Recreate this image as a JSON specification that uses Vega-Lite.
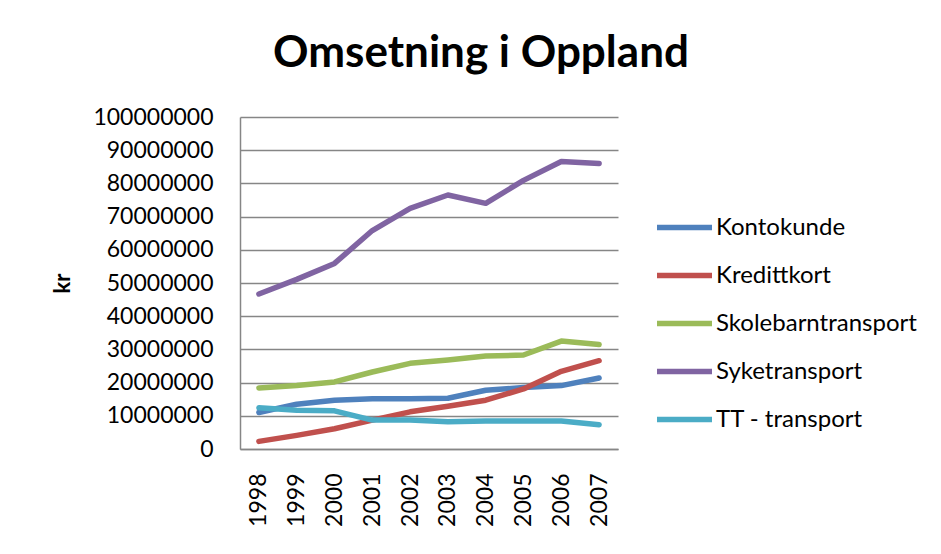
{
  "$schema": "https://vega.github.io/schema/vega-lite/v6.json",
  "autosize": "none",
  "width": 378,
  "height": 332,
  "padding": {"left": 240, "top": 117, "right": 323, "bottom": 105},
  "background": "white",
  "title": {
    "text": "Omsetning i Oppland",
    "font": "Lato",
    "fontSize": 44,
    "fontWeight": "bold",
    "color": "black",
    "anchor": "middle",
    "dx": 52,
    "baseline": "alphabetic",
    "offset": -5
  },
  "config": {
    "view": {"stroke": null},
    "font": "Lato"
  },
  "data": {
    "values": [
      {"year": "1998", "series": "Kontokunde", "value": 11000000},
      {"year": "1999", "series": "Kontokunde", "value": 13500000},
      {"year": "2000", "series": "Kontokunde", "value": 14700000},
      {"year": "2001", "series": "Kontokunde", "value": 15100000},
      {"year": "2002", "series": "Kontokunde", "value": 15100000},
      {"year": "2003", "series": "Kontokunde", "value": 15300000},
      {"year": "2004", "series": "Kontokunde", "value": 17700000},
      {"year": "2005", "series": "Kontokunde", "value": 18500000},
      {"year": "2006", "series": "Kontokunde", "value": 19100000},
      {"year": "2007", "series": "Kontokunde", "value": 21400000},
      {"year": "1998", "series": "Kredittkort", "value": 2300000},
      {"year": "1999", "series": "Kredittkort", "value": 4100000},
      {"year": "2000", "series": "Kredittkort", "value": 6100000},
      {"year": "2001", "series": "Kredittkort", "value": 8700000},
      {"year": "2002", "series": "Kredittkort", "value": 11200000},
      {"year": "2003", "series": "Kredittkort", "value": 12900000},
      {"year": "2004", "series": "Kredittkort", "value": 14700000},
      {"year": "2005", "series": "Kredittkort", "value": 18100000},
      {"year": "2006", "series": "Kredittkort", "value": 23400000},
      {"year": "2007", "series": "Kredittkort", "value": 26600000},
      {"year": "1998", "series": "Skolebarntransport", "value": 18400000},
      {"year": "1999", "series": "Skolebarntransport", "value": 19100000},
      {"year": "2000", "series": "Skolebarntransport", "value": 20200000},
      {"year": "2001", "series": "Skolebarntransport", "value": 23200000},
      {"year": "2002", "series": "Skolebarntransport", "value": 25800000},
      {"year": "2003", "series": "Skolebarntransport", "value": 26800000},
      {"year": "2004", "series": "Skolebarntransport", "value": 28000000},
      {"year": "2005", "series": "Skolebarntransport", "value": 28300000},
      {"year": "2006", "series": "Skolebarntransport", "value": 32500000},
      {"year": "2007", "series": "Skolebarntransport", "value": 31500000},
      {"year": "1998", "series": "Syketransport", "value": 46700000},
      {"year": "1999", "series": "Syketransport", "value": 51100000},
      {"year": "2000", "series": "Syketransport", "value": 55900000},
      {"year": "2001", "series": "Syketransport", "value": 65800000},
      {"year": "2002", "series": "Syketransport", "value": 72500000},
      {"year": "2003", "series": "Syketransport", "value": 76500000},
      {"year": "2004", "series": "Syketransport", "value": 74000000},
      {"year": "2005", "series": "Syketransport", "value": 80900000},
      {"year": "2006", "series": "Syketransport", "value": 86600000},
      {"year": "2007", "series": "Syketransport", "value": 86000000},
      {"year": "1998", "series": "TT - transport", "value": 12400000},
      {"year": "1999", "series": "TT - transport", "value": 11700000},
      {"year": "2000", "series": "TT - transport", "value": 11500000},
      {"year": "2001", "series": "TT - transport", "value": 8700000},
      {"year": "2002", "series": "TT - transport", "value": 8700000},
      {"year": "2003", "series": "TT - transport", "value": 8200000},
      {"year": "2004", "series": "TT - transport", "value": 8400000},
      {"year": "2005", "series": "TT - transport", "value": 8400000},
      {"year": "2006", "series": "TT - transport", "value": 8400000},
      {"year": "2007", "series": "TT - transport", "value": 7300000}
    ]
  },
  "mark": {"type": "line", "strokeWidth": 5.5, "strokeCap": "round", "strokeJoin": "round"},
  "encoding": {
    "x": {
      "field": "year",
      "type": "ordinal",
      "scale": {"type": "point", "padding": 0.5},
      "axis": {
        "title": null,
        "labelAngle": -90,
        "labelAlign": "right",
        "labelBaseline": "middle",
        "labelFont": "Lato",
        "labelFontSize": 23,
        "labelColor": "black",
        "labelPadding": 24,
        "ticks": false,
        "domainColor": "#868686",
        "domainWidth": 1.5,
        "grid": false
      }
    },
    "y": {
      "field": "value",
      "type": "quantitative",
      "scale": {"domain": [0, 100000000], "nice": false},
      "axis": {
        "title": "kr",
        "titleFont": "Lato",
        "titleFontSize": 22,
        "titleFontWeight": "bold",
        "titleColor": "black",
        "titleX": -178,
        "titleY": 166,
        "titleAlign": "center",
        "titleBaseline": "middle",
        "titleAngle": -90,
        "values": [0, 10000000, 20000000, 30000000, 40000000, 50000000, 60000000, 70000000, 80000000, 90000000, 100000000],
        "format": "d",
        "labelFont": "Lato",
        "labelFontSize": 23,
        "labelColor": "black",
        "labelPadding": 27,
        "ticks": false,
        "domainColor": "#868686",
        "domainWidth": 1.5,
        "gridColor": "#868686",
        "gridWidth": 1.5
      }
    },
    "color": {
      "field": "series",
      "type": "nominal",
      "scale": {
        "domain": ["Kontokunde", "Kredittkort", "Skolebarntransport", "Syketransport", "TT - transport"],
        "range": ["#4F81BD", "#C0504D", "#9BBB59", "#8064A2", "#4BACC6"]
      },
      "legend": {
        "title": null,
        "orient": "none",
        "legendX": 414,
        "legendY": 80,
        "symbolType": "stroke",
        "symbolSize": 3025,
        "symbolStrokeWidth": 5.5,
        "labelFont": "Lato",
        "labelFontSize": 24,
        "labelColor": "black",
        "labelOffset": 1,
        "labelLimit": 0,
        "rowPadding": 5
      }
    }
  }
}
